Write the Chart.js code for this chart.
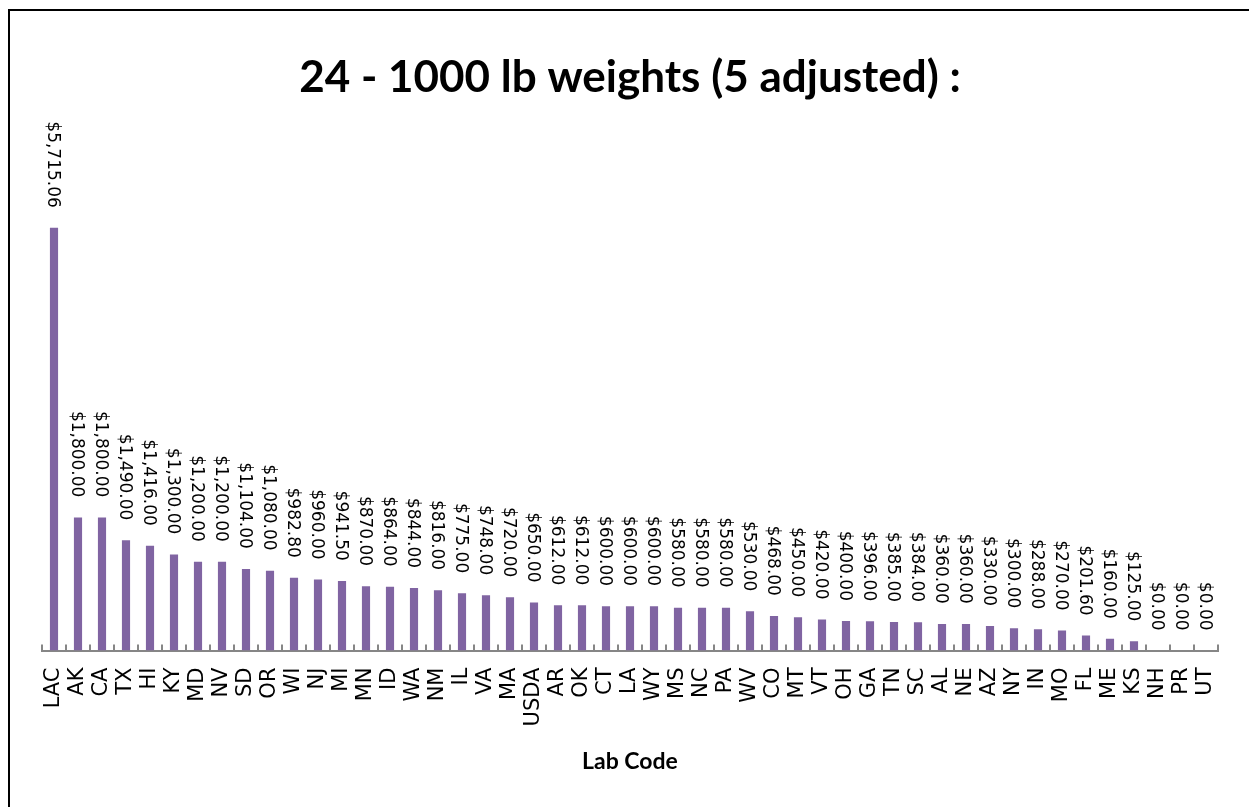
<!DOCTYPE html>
<html>
<head>
<meta charset="utf-8">
<script src="https://cdn.jsdelivr.net/npm/chart.js@4.4.1/dist/chart.umd.min.js"></script>
<style>
    html, body { margin: 0; padding: 0; background: #fff; overflow: hidden; }
    #wrap { position: absolute; left: 0; top: 0; width: 1249px; height: 807px; }
    #frame { position: absolute; left: 8px; top: 9px; width: 1260px; height: 820px; border: 2px solid #000; box-sizing: border-box; pointer-events: none; }
</style>
</head>
<body>
<div id="wrap">
    <canvas id="labChart" width="1249" height="807"></canvas>
    <div id="frame"></div>
</div>
<script>
const labCodes = ['LAC', 'AK', 'CA', 'TX', 'HI', 'KY', 'MD', 'NV', 'SD', 'OR', 'WI', 'NJ', 'MI', 'MN', 'ID', 'WA', 'NM', 'IL', 'VA', 'MA', 'USDA', 'AR', 'OK', 'CT', 'LA', 'WY', 'MS', 'NC', 'PA', 'WV', 'CO', 'MT', 'VT', 'OH', 'GA', 'TN', 'SC', 'AL', 'NE', 'AZ', 'NY', 'IN', 'MO', 'FL', 'ME', 'KS', 'NH', 'PR', 'UT'];
const costs = [5715.06, 1800, 1800, 1490, 1416, 1300, 1200, 1200, 1104, 1080, 982.80, 960, 941.50, 870, 864, 844, 816, 775, 748, 720, 650, 612, 612, 600, 600, 600, 580, 580, 580, 530, 468, 450, 420, 400, 396, 385, 384, 360, 360, 330, 300, 288, 270, 201.60, 160, 125, 0, 0, 0];
const chartTitle = '24 - 1000 lb weights (5 adjusted) :';
const xTitle = 'Lab Code';

function money(v) {
    return '$' + v.toLocaleString('en-US', { minimumFractionDigits: 2, maximumFractionDigits: 2 });
}

// value labels above each bar, rotated to read top-down
const barLabels = {
    id: 'barLabels',
    afterDatasetsDraw(chart) {
        const ctx = chart.ctx;
        const meta = chart.getDatasetMeta(0);
        ctx.save();
        ctx.font = '17px "DejaVu Sans"';
        ctx.fillStyle = '#000';
        ctx.textAlign = 'right';
        ctx.textBaseline = 'middle';
        meta.data.forEach((bar, i) => {
            ctx.save();
            ctx.translate(bar.x - 2, bar.y - 20);
            ctx.rotate(Math.PI / 2);
            ctx.fillText(money(costs[i]), 0, 0);
            ctx.restore();
        });
        ctx.restore();
    }
};

// small tick marks between categories, pointing up from the axis
const upTicks = {
    id: 'upTicks',
    afterDraw(chart) {
        const x = chart.scales.x;
        const y0 = chart.chartArea.bottom;
        const ctx = chart.ctx;
        const step = x.getPixelForValue(1) - x.getPixelForValue(0);
        ctx.save();
        ctx.strokeStyle = '#868686';
        ctx.lineWidth = 2;
        for (let i = 0; i <= labCodes.length; i++) {
            const px = Math.round(x.getPixelForValue(i) - step / 2);
            ctx.beginPath();
            ctx.moveTo(px, y0);
            ctx.lineTo(px, y0 - 6);
            ctx.stroke();
        }
        ctx.restore();
    }
};

new Chart(document.getElementById('labChart'), {
    type: 'bar',
    data: {
        labels: labCodes,
        datasets: [{
            label: 'Cost',
            data: costs,
            backgroundColor: '#8064A2',
            barPercentage: 0.34,
            categoryPercentage: 1
        }]
    },
    options: {
        responsive: false,
        animation: false,
        layout: {
            padding: { left: 42, right: 31, top: 0, bottom: 32 }
        },
        plugins: {
            legend: { display: false },
            tooltip: { enabled: false },
            title: {
                display: true,
                text: chartTitle,
                color: '#000',
                font: { family: 'Lato', size: 44, weight: 'bold' },
                padding: { top: 51, bottom: 29 }
            }
        },
        scales: {
            y: {
                display: false,
                min: 0,
                max: 7000
            },
            x: {
                grid: {
                    offset: true,
                    drawOnChartArea: false,
                    drawTicks: false
                },
                border: { display: true, color: '#868686', width: 2 },
                ticks: {
                    color: '#000',
                    font: { family: 'DejaVu Sans', size: 21 },
                    minRotation: 90,
                    maxRotation: 90,
                    autoSkip: false,
                    padding: 17
                },
                title: {
                    display: true,
                    text: xTitle,
                    color: '#000',
                    font: { family: 'Lato', size: 23, weight: 'bold' },
                    padding: { top: 4, bottom: 0 }
                }
            }
        }
    },
    plugins: [barLabels, upTicks]
});
</script>
</body>
</html>
